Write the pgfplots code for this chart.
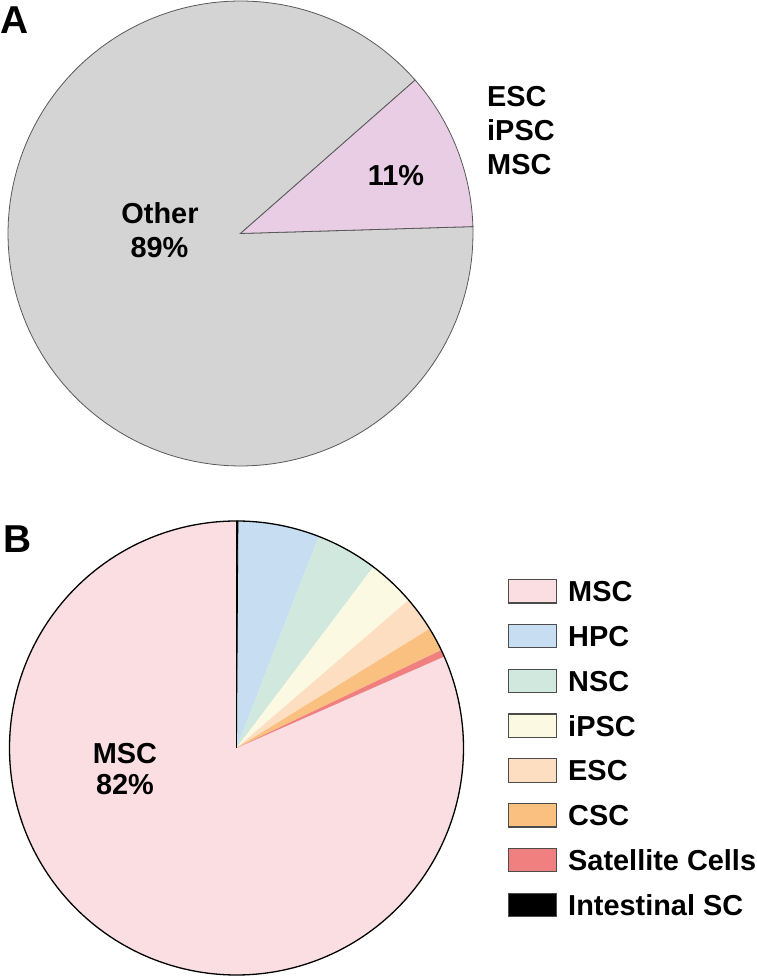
\documentclass[border=0pt]{standalone}
\usepackage{pgfplots}
\pgfplotsset{compat=1.18}
\usepackage{fontspec}
\setmainfont{Liberation Sans}

\definecolor{cOther}{RGB}{211,212,211}
\definecolor{cA}{RGB}{232,205,228}
\definecolor{cMSC}{RGB}{250,222,226}
\definecolor{cHPC}{RGB}{199,221,241}
\definecolor{cNSC}{RGB}{208,232,222}
\definecolor{ciPSC}{RGB}{252,249,226}
\definecolor{cESC}{RGB}{253,222,192}
\definecolor{cCSC}{RGB}{250,192,128}
\definecolor{cSat}{RGB}{240,128,128}
\definecolor{cInt}{RGB}{0,0,0}

% \slice{cx}{cy}{r}{start angle}{percent}{options}
\newcommand{\slice}[6]{%
  \addplot[#6, domain={#4}:{#4+3.6*#5}, samples=150, variable=\t]
    ({#1+#3*cos(\t)}, {#2+#3*sin(\t)}) -- (axis cs:#1,#2) -- cycle;
}

\begin{document}
\begin{tikzpicture}
\begin{axis}[
  scale only axis, width=757bp, height=977bp,
  xmin=0, xmax=757, ymin=0, ymax=977,
  hide axis, clip=false,
  legend cell align=left,
  legend image code/.code={\draw[#1, draw=black!70, line width=1.2bp] (0bp,-11.75bp) rectangle (48bp,11.75bp);},
  legend style={at={(0.6711,0.4074)}, anchor=north west, draw=none, fill=none,
    inner sep=0pt, outer sep=0pt, row sep=20.1bp, column sep=11bp,
    font=\bfseries\fontsize{29}{29}\selectfont,
    nodes={inner sep=0pt, outer sep=0pt, text height=20.8bp, text depth=0pt}},
]
% ---------- Pie A: percentages (Other 89, ESC/iPSC/MSC 11)
\slice{240.5}{743.5}{232.5}{41.3}{89}{fill=cOther, draw=black!65, line width=0.8bp, forget plot}
\slice{240.5}{743.5}{232.5}{1.7}{11}{fill=cA, draw=black!65, line width=0.8bp, forget plot}

% ---------- Pie B: percentages
\slice{236.5}{229}{227}{90}{81.6}{fill=cMSC, draw=none}
\addlegendentry{MSC}
\slice{236.5}{229}{227}{68.76}{5.8}{fill=cHPC, draw=none}
\addlegendentry{HPC}
\slice{236.5}{229}{227}{52.92}{4.4}{fill=cNSC, draw=none}
\addlegendentry{NSC}
\slice{236.5}{229}{227}{40.68}{3.4}{fill=ciPSC, draw=none}
\addlegendentry{iPSC}
\slice{236.5}{229}{227}{31.68}{2.5}{fill=cESC, draw=none}
\addlegendentry{ESC}
\slice{236.5}{229}{227}{25.56}{1.7}{fill=cCSC, draw=none}
\addlegendentry{CSC}
\slice{236.5}{229}{227}{23.76}{0.5}{fill=cSat, draw=none}
\addlegendentry{Satellite Cells}
\slice{236.5}{229}{227}{89.64}{0.1}{fill=cInt, draw=black, line width=0.8bp}
\addlegendentry{Intestinal SC}
\addplot[black, line width=1.3bp, domain=0:360, samples=361, variable=\t, forget plot]
  ({236.5+227*cos(\t)}, {229+227*sin(\t)});

% ---------- Labels
\node[anchor=base west, inner sep=0pt, font=\bfseries\fontsize{39}{39}\selectfont] at (axis cs:0,943) {A};
\node[anchor=base west, inner sep=0pt, font=\bfseries\fontsize{39}{39}\selectfont] at (axis cs:3,424) {B};
\begin{scope}[every node/.style={inner sep=0pt, font=\bfseries\fontsize{29}{29}\selectfont}]
\node[anchor=base] at (axis cs:160,753) {Other};
\node[anchor=base] at (axis cs:159.5,719) {89\%};
\node[anchor=base] at (axis cs:396,791) {11\%};
\node[anchor=base west] at (axis cs:487,870) {ESC};
\node[anchor=base west] at (axis cs:487,836) {iPSC};
\node[anchor=base west] at (axis cs:487,802) {MSC};
\node[anchor=base] at (axis cs:125,213) {MSC};
\node[anchor=base] at (axis cs:125,182) {82\%};
\end{scope}
\end{axis}
\pgfresetboundingbox
\path[use as bounding box] (current axis.south west) rectangle (current axis.north east);
\end{tikzpicture}
\end{document}
